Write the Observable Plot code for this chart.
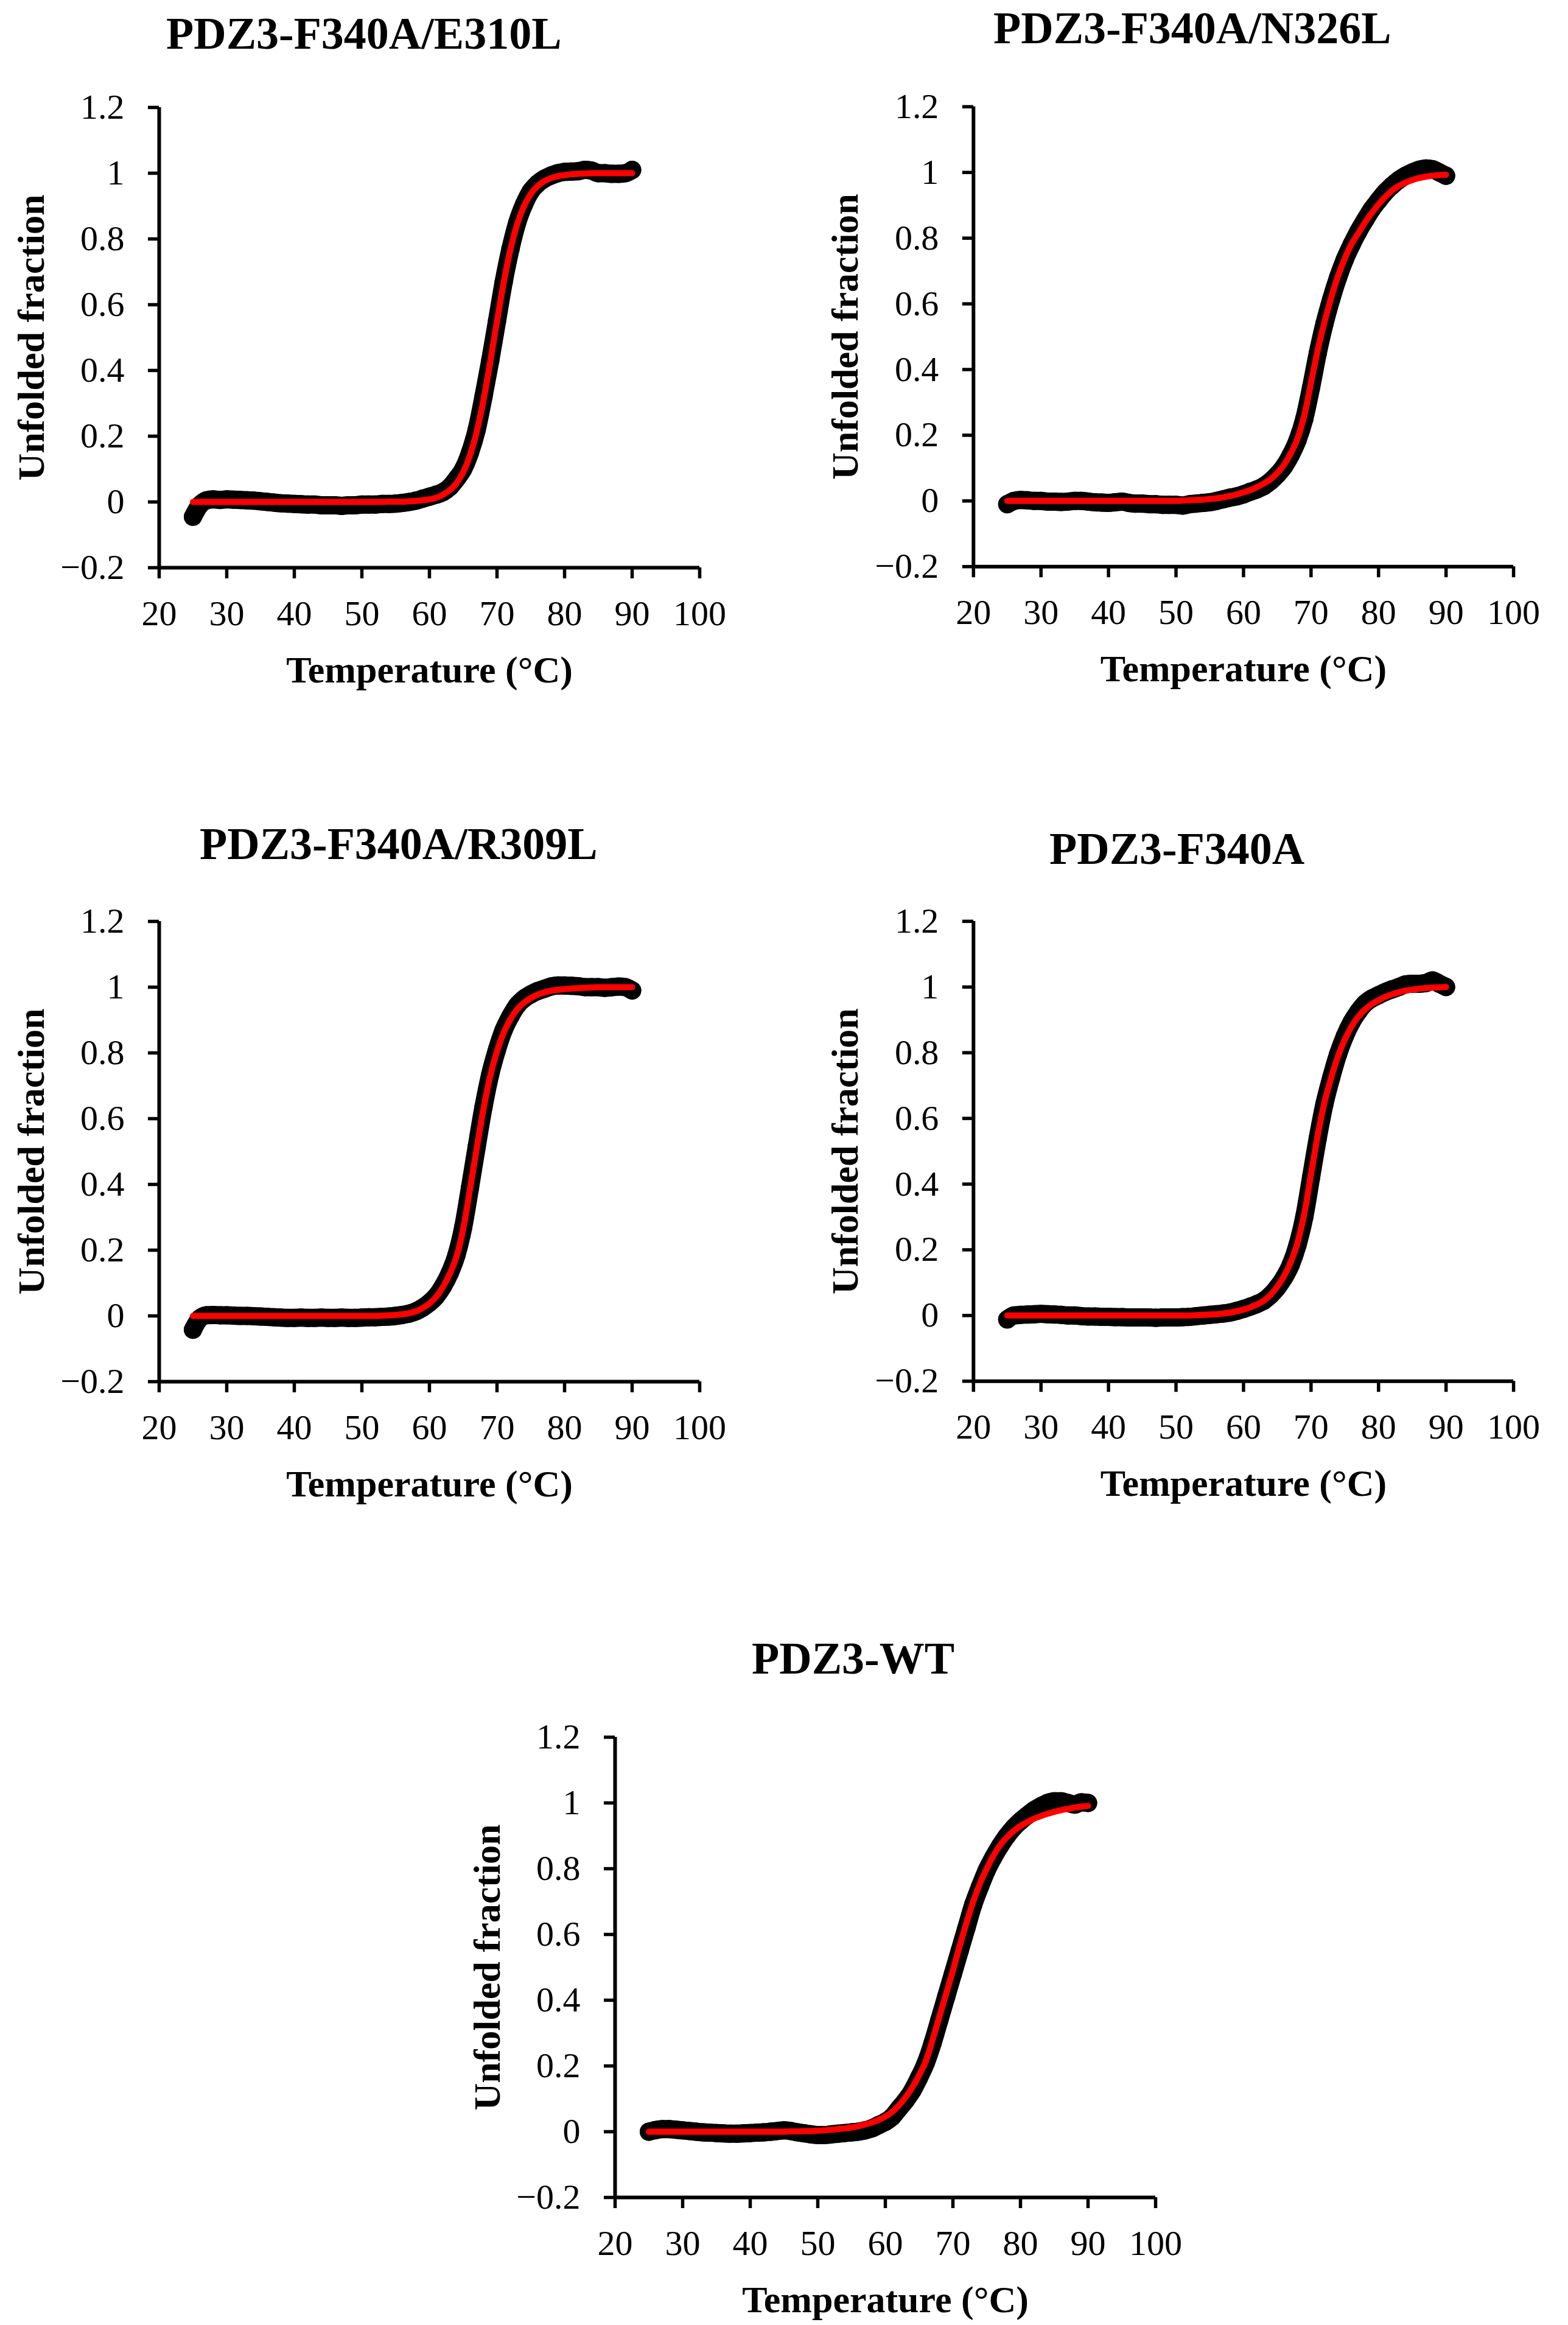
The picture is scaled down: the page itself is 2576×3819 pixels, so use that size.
<!DOCTYPE html>
<html>
<head>
<meta charset="utf-8">
<script src="https://cdn.jsdelivr.net/npm/d3@7"></script>
<script src="https://cdn.jsdelivr.net/npm/@observablehq/plot@0.6"></script>
<style>
  body { margin: 0; background: #fff; overflow: hidden; }
  #page { position: relative; width: 2576px; height: 3819px; background: #fff; }
  .panel { position: absolute; }
  .title {
    position: absolute; white-space: nowrap;
    font-family: "Liberation Serif", "Times New Roman", serif;
    font-weight: bold; font-size: 74px; line-height: 74px; color: #000;
  }
  g[aria-label="x-axis label"] text, g[aria-label="y-axis label"] text {
    font-weight: bold; font-size: 62px;
  }
</style>
</head>
<body>
<div id="page"></div>
<script>
// temperature grid (°C) shared by all curves
const temps = [
  25, 26, 27, 28, 29, 30, 31, 32, 33, 34,
  35, 36, 37, 38, 39, 40, 41, 42, 43, 44,
  45, 46, 47, 48, 49, 50, 51, 52, 53, 54,
  55, 56, 57, 58, 59, 60, 61, 62, 63, 64,
  65, 66, 67, 68, 69, 70, 71, 72, 73, 74,
  75, 76, 77, 78, 79, 80, 81, 82, 83, 84,
  85, 86, 87, 88, 89, 90
]

const xTicks = [20, 30, 40, 50, 60, 70, 80, 90, 100]
const yTicks = [-0.2, 0, 0.2, 0.4, 0.6, 0.8, 1, 1.2]

// PDZ3-F340A/E310L
const dataE310L = [
  -0.045, -0.01, 0.005, 0.008, 0.006, 0.008, 0.007, 0.006, 0.005, 0.004,
  0.002, 0, -0.002, -0.004, -0.005, -0.006, -0.007, -0.008, -0.008, -0.01,
  -0.01, -0.01, -0.012, -0.01, -0.01, -0.008, -0.008, -0.008, -0.006, -0.006,
  -0.005, -0.003, 0, 0.004, 0.01, 0.016, 0.022, 0.03, 0.045, 0.07,
  0.1, 0.15, 0.22, 0.32, 0.43, 0.55, 0.67, 0.77, 0.85, 0.905,
  0.945, 0.968, 0.983, 0.993, 1, 1.004, 1.005, 1.006, 1.01, 1.008,
  1, 1, 0.998, 0.998, 1, 1.01
]
const fitE310L = [
  0, 0, 0, 0, 0, 0, 0, 0, 0, 0,
  0, 0, 0, 0, 0, 0, 0, 0, 0, 0,
  0, 0, 0, 0, 0, 0, 0, 0, 0, 0.001,
  0.001, 0.001, 0.002, 0.003, 0.005, 0.008, 0.013, 0.022, 0.036, 0.057,
  0.091, 0.142, 0.214, 0.31, 0.426, 0.55, 0.668, 0.769, 0.846, 0.9,
  0.937, 0.961, 0.976, 0.985, 0.991, 0.994, 0.997, 0.998, 0.999, 1,
  1, 1, 1, 1, 1, 1
]

// PDZ3-F340A/N326L
const dataN326L = [
  -0.01, 0, 0.003, 0.002, 0, 0, -0.002, -0.002, -0.003, -0.002,
  0, 0, -0.002, -0.004, -0.005, -0.006, -0.004, -0.002, -0.006, -0.008,
  -0.008, -0.01, -0.01, -0.012, -0.012, -0.012, -0.014, -0.01, -0.008, -0.006,
  -0.004, 0, 0.005, 0.01, 0.014, 0.02, 0.028, 0.035, 0.045, 0.06,
  0.08, 0.105, 0.14, 0.185, 0.25, 0.345, 0.45, 0.54, 0.615, 0.68,
  0.735, 0.78, 0.82, 0.855, 0.888, 0.915, 0.94, 0.96, 0.977, 0.99,
  1, 1.008, 1.012, 1.01, 1, 0.99
]
const fitN326L = [
  0, 0, 0, 0, 0, 0, 0, 0, 0, 0,
  0, 0, 0, 0, 0, 0, 0, 0, 0, 0,
  0, 0, 0, 0, 0, 0, 0.001, 0.002, 0.003, 0.004,
  0.006, 0.008, 0.011, 0.015, 0.02, 0.026, 0.033, 0.042, 0.053, 0.066,
  0.085, 0.11, 0.145, 0.19, 0.26, 0.36, 0.46, 0.545, 0.62, 0.685,
  0.738, 0.782, 0.815, 0.848, 0.877, 0.903, 0.926, 0.945, 0.959, 0.969,
  0.977, 0.983, 0.987, 0.99, 0.992, 0.993
]

// PDZ3-F340A/R309L
const dataR309L = [
  -0.042, -0.008, 0.002, 0.003, 0.002, 0.002, 0.001, 0, 0, -0.001,
  -0.002, -0.003, -0.004, -0.005, -0.006, -0.006, -0.005, -0.006, -0.006, -0.005,
  -0.006, -0.006, -0.005, -0.006, -0.006, -0.005, -0.004, -0.004, -0.003, -0.002,
  0, 0.003, 0.007, 0.014, 0.025, 0.04, 0.06, 0.09, 0.13, 0.185,
  0.27, 0.39, 0.515, 0.635, 0.735, 0.81, 0.87, 0.912, 0.945, 0.965,
  0.978, 0.988, 0.995, 1.002, 1.005, 1.005, 1.004, 1.003, 1, 1,
  1, 0.998, 1, 1.002, 1, 0.99
]
const fitR309L = [
  0, 0, 0, 0, 0, 0, 0, 0, 0, 0,
  0, 0, 0, 0, 0, 0, 0, 0, 0, 0,
  0, 0, 0, 0, 0, 0, 0, 0, 0.001, 0.002,
  0.003, 0.005, 0.008, 0.014, 0.024, 0.038, 0.058, 0.088, 0.128, 0.18,
  0.265, 0.385, 0.51, 0.63, 0.73, 0.805, 0.862, 0.903, 0.933, 0.953,
  0.967, 0.977, 0.984, 0.989, 0.992, 0.994, 0.996, 0.997, 0.998, 0.999,
  1, 1, 1, 1, 1, 1
]

// PDZ3-F340A
const dataF340A = [
  -0.012, 0, 0.002, 0.003, 0.004, 0.005, 0.004, 0.003, 0.002, 0,
  0, -0.002, -0.003, -0.003, -0.004, -0.004, -0.005, -0.005, -0.006, -0.006,
  -0.006, -0.006, -0.007, -0.006, -0.006, -0.006, -0.005, -0.004, -0.002, 0,
  0.002, 0.004, 0.006, 0.009, 0.014, 0.02, 0.027, 0.035, 0.045, 0.062,
  0.085, 0.115, 0.155, 0.215, 0.3, 0.42, 0.54, 0.645, 0.725, 0.795,
  0.85, 0.893, 0.925, 0.95, 0.965, 0.975, 0.985, 0.993, 1, 1.008,
  1.01, 1.01, 1.012, 1.02, 1.01, 1
]
const fitF340A = [
  0, 0, 0, 0, 0, 0, 0, 0, 0, 0,
  0, 0, 0, 0, 0, 0, 0, 0, 0, 0,
  0, 0, 0, 0, 0, 0, 0, 0, 0.001, 0.002,
  0.003, 0.004, 0.006, 0.009, 0.013, 0.018, 0.025, 0.034, 0.045, 0.063,
  0.088, 0.12, 0.163, 0.222, 0.31, 0.43, 0.55, 0.65, 0.725, 0.79,
  0.84, 0.88, 0.91, 0.932, 0.948, 0.96, 0.97, 0.978, 0.984, 0.989,
  0.992, 0.995, 0.997, 0.998, 0.999, 1
]

// PDZ3-WT
const dataWT = [
  0, 0.005, 0.008, 0.008, 0.006, 0.004, 0.002, 0, -0.002, -0.003,
  -0.004, -0.005, -0.006, -0.006, -0.005, -0.004, -0.003, -0.002, 0, 0.002,
  0.004, 0.002, -0.002, -0.005, -0.008, -0.01, -0.01, -0.008, -0.006, -0.004,
  -0.002, 0, 0.004, 0.01, 0.02, 0.03, 0.045, 0.07, 0.095, 0.125,
  0.165, 0.21, 0.27, 0.34, 0.41, 0.48, 0.55, 0.62, 0.69, 0.745,
  0.795, 0.835, 0.87, 0.9, 0.925, 0.945, 0.962, 0.978, 0.99, 1,
  1.005, 1.005, 1, 0.995, 1.002, 1
]
const fitWT = [
  0, 0, 0, 0, 0, 0, 0, 0, 0, 0,
  0, 0, 0, 0, 0, 0, 0, 0, 0, 0,
  0, 0.001, 0.001, 0.002, 0.002, 0.003, 0.004, 0.006, 0.008, 0.01,
  0.013, 0.017, 0.022, 0.028, 0.036, 0.046, 0.06, 0.08, 0.105, 0.135,
  0.172, 0.215, 0.28, 0.35, 0.42, 0.49, 0.565, 0.635, 0.7, 0.755,
  0.8, 0.84, 0.872, 0.896, 0.915, 0.93, 0.942, 0.952, 0.96, 0.967,
  0.973, 0.978, 0.982, 0.986, 0.989, 0.991
]

// one entry per panel: svg left/top on the page, title left and baseline
const panels = [
  {name: "PDZ3-F340A/E310L", data: dataE310L, fit: fitE310L, left: 0, top: 0, titleX: 273, titleBase: 80},
  {name: "PDZ3-F340A/N326L", data: dataN326L, fit: fitN326L, left: 1338, top: -1, titleX: 1632, titleBase: 71},
  {name: "PDZ3-F340A/R309L", data: dataR309L, fit: fitR309L, left: 0, top: 1337, titleX: 328, titleBase: 1411},
  {name: "PDZ3-F340A", data: dataF340A, fit: fitF340A, left: 1338, top: 1337, titleX: 1724, titleBase: 1419},
  {name: "PDZ3-WT", data: dataWT, fit: fitWT, left: 749, top: 2677, titleX: 1235, titleBase: 2749}
]

const fmt = d => (d < 0 ? "\u2212" : "") + Math.abs(d)
const page = d3.select("#page")

panels.forEach(p => {
  const pts = temps.map((t, i) => ({t, v: p.data[i]}))
  const curve = temps.map((t, i) => ({t, v: p.fit[i]}))

  let chart = Plot.plot({
    width: 1239,
    height: 1140,
    marginLeft: 261,
    marginRight: 90,
    marginTop: 176,
    marginBottom: 208,
    x: {domain: [20, 100]},
    y: {domain: [-0.2, 1.2]},
    style: {
      fontFamily: "'Liberation Serif', 'Times New Roman', serif",
      fontSize: "58px",
      color: "#000",
      background: "transparent",
      overflow: "visible"
    },
    marks: [
      // measured points: dense black markers
      Plot.line(pts, {x: "t", y: "v", stroke: "#000", strokeWidth: 30, curve: "monotone-x", strokeLinecap: "round", strokeLinejoin: "round"}),
      Plot.dot(pts, {x: "t", y: "v", r: 15, fill: "#000"}),
      // fitted curve
      Plot.line(curve, {x: "t", y: "v", stroke: "#ff0000", strokeWidth: 10, curve: "monotone-x", strokeLinecap: "round"}),
      Plot.ruleX([20], {y1: -0.2, y2: 1.2, stroke: "#000", strokeWidth: 6}),
      Plot.ruleY([-0.2], {x1: 20, x2: 100, stroke: "#000", strokeWidth: 6}),
      Plot.axisX({ticks: xTicks, tickFormat: fmt, tickSize: 18, tickPadding: 35, strokeWidth: 5.5,
        label: "Temperature (°C)", labelArrow: "none", labelAnchor: "center", labelOffset: 188}),
      Plot.axisY({ticks: yTicks, tickFormat: fmt, tickSize: 18, tickPadding: 39, strokeWidth: 5.5,
        label: "Unfolded fraction", labelArrow: "none", labelAnchor: "center", labelOffset: 234})
    ]
  })

  page.append("div")
    .attr("class", "panel")
    .style("left", p.left + "px")
    .style("top", p.top + "px")
    .append(() => chart)

  page.append("div")
    .attr("class", "title")
    .style("left", p.titleX + "px")
    .style("top", (p.titleBase - 62) + "px")
    .text(p.name)
})
</script>
</body>
</html>
